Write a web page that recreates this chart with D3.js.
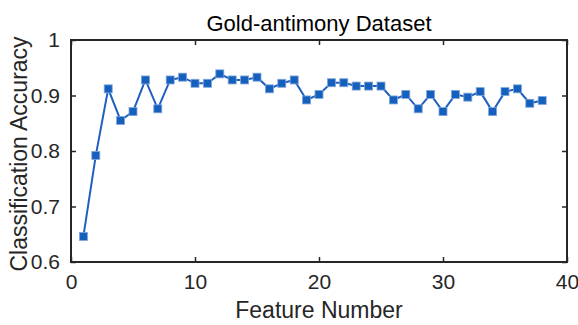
<!DOCTYPE html>
<html><head><meta charset="utf-8">
<script src="https://cdn.jsdelivr.net/npm/d3@7"></script>
<style>body{margin:0;background:#fff;} svg{display:block;}</style>
</head><body>
<svg id="c" width="578" height="325"></svg>
<script>
const features = d3.range(1, 39);
const accuracy = [0.646,0.792,0.912,0.855,0.871,0.928,0.876,0.928,0.933,0.922,0.922,0.939,0.928,0.928,0.933,0.912,0.922,0.928,0.892,0.902,0.923,0.923,0.917,0.917,0.917,0.892,0.902,0.876,0.902,0.871,0.902,0.897,0.907,0.871,0.907,0.912,0.886,0.891];
const xTicks = [0,10,20,30,40];
const yTicks = [0.6,0.7,0.8,0.9,1];
const yTickLabels = ["0.6","0.7","0.8","0.9","1"];
const title = "Gold-antimony Dataset";
const xLabel = "Feature Number";
const yLabel = "Classification Accuracy";

const L=71, R=567, T=40, B=262;
const svg = d3.select("#c");
const x = d3.scaleLinear().domain([0,40]).range([L,R]);
const y = d3.scaleLinear().domain([0.6,1]).range([B,T]);
const font = "'Liberation Sans', Arial, sans-serif";
const ink = "#262626";

// axes with inward ticks
const ax = (g, axis) => { g.call(axis); g.select(".domain").remove(); g.selectAll("line").attr("stroke", ink).attr("stroke-width",1.5); };
svg.append("g").attr("transform",`translate(0,${B})`).call(g=>ax(g,d3.axisBottom(x).tickValues(xTicks).tickSizeInner(-5).tickSizeOuter(0).tickPadding(12)))
  .selectAll("text").attr("font-family",font).attr("font-size",21).attr("fill",ink);
svg.append("g").attr("transform",`translate(0,${T})`).call(g=>ax(g,d3.axisTop(x).tickValues(xTicks).tickSizeInner(-5).tickSizeOuter(0).tickFormat("")));
svg.append("g").attr("transform",`translate(${L},0)`).call(g=>ax(g,d3.axisLeft(y).tickValues(yTicks).tickSizeInner(-5).tickSizeOuter(0).tickPadding(11).tickFormat((d,i)=>yTickLabels[i])))
  .selectAll("text").attr("font-family",font).attr("font-size",21).attr("fill",ink);
svg.append("g").attr("transform",`translate(${R},0)`).call(g=>ax(g,d3.axisRight(y).tickValues(yTicks).tickSizeInner(-5).tickSizeOuter(0).tickFormat("")));
svg.selectAll(".tick text").attr("font-family",font).attr("font-size",21);

svg.append("rect").attr("x",L).attr("y",T).attr("width",R-L).attr("height",B-T)
  .attr("fill","none").attr("stroke",ink).attr("stroke-width",2);

// line
svg.append("path").datum(features.map((f,i)=>[f,accuracy[i]]))
  .attr("fill","none").attr("stroke","#1f5fbf").attr("stroke-width",2)
  .attr("d", d3.line().x(d=>x(d[0])).y(d=>y(d[1])));
const ms=8;
svg.append("g").selectAll("rect").data(features).join("rect")
  .attr("x",(d,i)=>x(d)-ms/2).attr("y",(d,i)=>y(accuracy[i])-ms/2)
  .attr("width",ms).attr("height",ms)
  .attr("fill","#1560bd").attr("stroke","#7fa6dc").attr("stroke-width",0.8);

svg.append("text").attr("x",(L+R)/2).attr("y",31).attr("text-anchor","middle")
  .attr("font-family",font).attr("font-size",22).attr("fill","#000").text(title);
svg.append("text").attr("x",(L+R)/2).attr("y",318).attr("text-anchor","middle")
  .attr("font-family",font).attr("font-size",23).attr("fill",ink).text(xLabel);
svg.append("text").attr("transform",`translate(27,${(T+B)/2+3}) rotate(-90)`).attr("text-anchor","middle")
  .attr("font-family",font).attr("font-size",23).attr("fill",ink).text(yLabel);
</script>
</body></html>
